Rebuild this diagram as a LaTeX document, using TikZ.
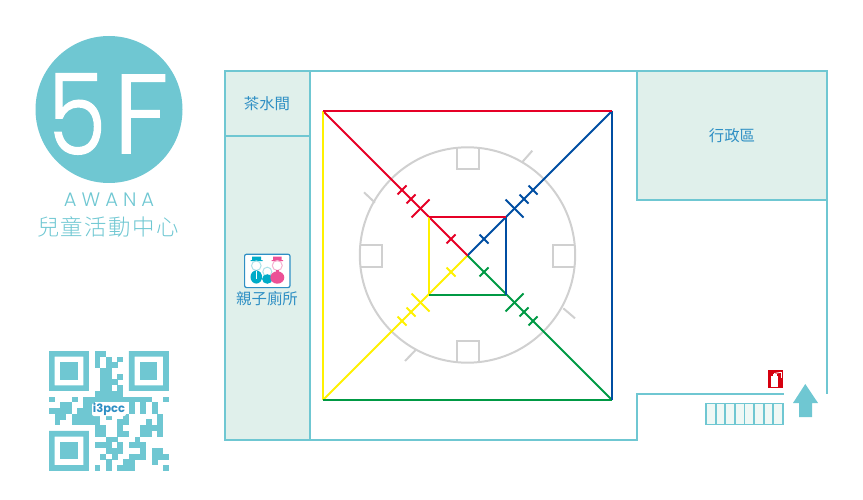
\documentclass[tikz,border=0pt]{standalone}
\usepackage{fontspec}
\setmainfont{Liberation Sans}
\newfontfamily\cjk{Noto Sans CJK TC}
\newfontfamily\cjklight[UprightFont=* Light]{Noto Sans CJK TC}
\newfontfamily\thinlat[UprightFont=* Light,FakeBold=1.2]{Poppins}
\newfontfamily\thinspaced[UprightFont=* Light,LetterSpace=26]{Poppins}
\newfontfamily\boldlat[UprightFont=* Bold]{Poppins}
\definecolor{teal5}{RGB}{111,199,210}
\definecolor{roomfill}{RGB}{224,240,235}
\definecolor{labelblue}{RGB}{46,143,196}
\definecolor{greyplan}{RGB}{208,208,208}
\definecolor{lred}{RGB}{230,0,38}
\definecolor{lblue}{RGB}{0,78,162}
\definecolor{lgreen}{RGB}{0,153,68}
\definecolor{lyellow}{RGB}{255,241,0}
\definecolor{exred}{RGB}{214,0,15}
\definecolor{iconteal}{RGB}{0,172,200}
\definecolor{iconpink}{RGB}{236,80,150}
\definecolor{iconpale}{RGB}{170,225,232}
\tikzset{
  wall/.style={draw=teal5,line width=2.5pt},
  room/.style={wall,fill=roomfill},
  plangrey/.style={draw=greyplan,line width=2pt},
  roomlabel/.style={font=\cjk\fontsize{15.4}{16}\selectfont,text=labelblue,inner sep=0pt},
  qrmod/.style={fill=teal5},
}
\begin{document}
\begin{tikzpicture}[x=1pt,y=-1pt]
\useasboundingbox (0,0) rectangle (863,500);
% logo
\fill[teal5] (109,109.5) circle (73.5);
\node[text=white,inner sep=0pt,xscale=.84,font=\thinlat\fontsize{112}{112}\selectfont] (five) at (77,114) {5};
\node[text=white,inner sep=0pt,font=\thinlat\fontsize{112}{112}\selectfont] (eff) at (141,114) {F};
\node[text=teal5,inner sep=0pt,font=\thinspaced\fontsize{19.5}{20}\selectfont] (awana) at (109,200) {AWANA};
\node[text=teal5,inner sep=0pt,font=\cjklight\fontsize{22.4}{23}\selectfont] (center) at (108,227) {兒\hspace{1.5pt}童\hspace{1.5pt}活\hspace{1.5pt}動\hspace{1.5pt}中\hspace{1.5pt}心};
% walls
\draw[teal5,line width=1.6pt] (310,71) -- (637,71);
\draw[wall] (310,136) -- (310,440) -- (637,440) -- (637,394) -- (784,394);
\draw[wall] (827,200) -- (827,394);
\draw[room] (225,71) rectangle (310,136);
\draw[room] (225,136) rectangle (310,440);
\draw[room] (637,71) rectangle (827,200);
\node[roomlabel] (tea) at (267,104) {茶水間};
\node[roomlabel] (wc) at (267,299) {親子廁所};
\node[roomlabel] (admin) at (732,136) {行政區};
% family toilet icon
\draw[draw=labelblue,fill=white,line width=1.2pt,rounded corners=2pt] (244.6,254.2) rectangle (290,287.6);
\fill[iconteal] (252,260) rectangle (261,256.5) (250.5,260) rectangle (262.5,261);
\draw[iconpale,line width=1pt] (256.3,265.7) circle (4.8);
\fill[iconteal] (256.3,277) ellipse (5.8 and 6.6);
\fill[white] (255.7,271) rectangle (256.9,279);
\draw[iconpale,line width=1pt] (267.3,271.7) circle (4.5);
\fill[iconteal] (267.3,279) ellipse (5.2 and 4.8);
\fill[iconpink] (273,256.5) rectangle (281.6,260) (271.5,260) rectangle (283,261);
\draw[iconpink!45,line width=1pt] (277.3,265.5) circle (5);
\fill[iconpink] (277.3,277.5) ellipse (7 and 6.2);
\fill[iconpink] (275.8,270) rectangle (278.8,274);
% plan: grey circle
\draw[plangrey] (467.5,255) circle (107.7);
\draw[plangrey] (457.3,148) -- (457.3,169.5) -- (479,169.5) -- (479,148);
\draw[plangrey] (457.3,362.5) -- (457.3,341) -- (479,341) -- (479,362.5);
\draw[plangrey] (360,245) -- (382,245) -- (382,266.5) -- (360,266.5);
\draw[plangrey] (575,245) -- (553,245) -- (553,266.5) -- (575,266.5);
\draw[plangrey] (521.7,162.7) -- (532.3,150.7);
\draw[plangrey] (364,192.3) -- (375,202.7);
\draw[plangrey] (563.3,308.3) -- (575,318.3);
\draw[plangrey] (405,361) -- (415.7,350);
% coloured lines
\begin{scope}[line width=2pt,line cap=butt]
\foreach \col/\sx/\sy in {lyellow/-1/1,lgreen/1/1,lblue/1/-1,lred/-1/-1}{
  \begin{scope}[shift={(467.5,255.5)},xscale=\sx,yscale=\sy,draw=\col]
    \draw (0,0) -- (144.5,144.5);
    \draw (47-9,47+9) -- (47+9,47-9);
    \draw (56.5-4.5,56.5+4.5) -- (56.5+4.5,56.5-4.5);
    \draw (65.5-4.5,65.5+4.5) -- (65.5+4.5,65.5-4.5);
    \draw (16.5-4.5,16.5+4.5) -- (16.5+4.5,16.5-4.5);
  \end{scope}
}
\draw[lyellow] (323,111) -- (323,400);
\draw[lyellow] (429,217) -- (429,295);
\draw[lgreen] (323,400) -- (612,400);
\draw[lgreen] (429,295) -- (506,295);
\draw[lblue] (612,111) -- (612,400);
\draw[lblue] (506,217) -- (506,295);
\draw[lred] (323,111) -- (612,111);
\draw[lred] (429,217) -- (506,217);
\end{scope}
% stairs
\draw[draw=teal5,fill=roomfill!50,line width=1.8pt] (706,403.5) rectangle (783,424.5);
\foreach \i in {1,...,7}{ \draw[teal5,line width=1.8pt] (706+9.625*\i,403.5) -- (706+9.625*\i,424.5); }
% arrow
\fill[teal5] (805.3,384) -- (818,403) -- (812,403) -- (812,417) -- (799,417) -- (799,403) -- (793,403) -- cycle;
% extinguisher
\fill[exred] (768.3,370) rectangle (783.3,388.3);
\fill[white] (771.3,376) rectangle (778,386.5);
\fill[white] (772.5,373.5) rectangle (776.5,376);
\draw[white,line width=.8pt] (774,373.5) -- (781,372.3);
\draw[white,line width=.6pt] (781,372.3) -- (781,378);
% QR
\begin{scope}[shift={(49,351)},x=5.71pt,y=-5.71pt]
  \foreach \ox/\oy in {0/0,14/0,0/14}{
    \fill[qrmod,even odd rule] (\ox,\oy) rectangle +(7,7) (\ox+1,\oy+1) rectangle +(5,5);
    \fill[qrmod] (\ox+2,\oy+2) rectangle +(3,3);
  }
  \foreach \r/\cols in {
    0/{8,9},1/{8,10,12},2/{8,10,11},3/{9,10},4/{9,10,12},5/{9,10,11},6/{9,10,12},7/{8,9,10,11,12},
    8/{0,4,6,7,8,9,10,11,12,13,14,15,16,17,20},
    9/{2,3,6,7,14,16,18},
    10/{0,1,2,3,5,6,7,14,16,18},
    11/{1,2,4,5,6,7,8,10,13,19},
    12/{1,4,5,6,7,8,12,13,17,19},
    13/{8,9,12,16,17,18,19},
    14/{8,9,12,13,16,17,19},
    15/{10,11,15},
    16/{8,9,10,12,14,15,16},
    17/{10,11,12,16,18,19},
    18/{9,11,14,15,16,18,19,20},
    19/{10,13,14,18},
    20/{8,10,12,13,14,20}}{
    \foreach \c in \cols { \fill[qrmod] (\c-0.01,\r-0.01) rectangle +(1.02,1.02); }
  }
\end{scope}
\fill[white,rounded corners=2pt] (92,403) rectangle (126,416);
\node[text=labelblue,inner sep=0pt,font=\boldlat\fontsize{11.5}{12}\selectfont] (qrlogo) at (109,409.5) {i3pcc};
\end{tikzpicture}
\end{document}
